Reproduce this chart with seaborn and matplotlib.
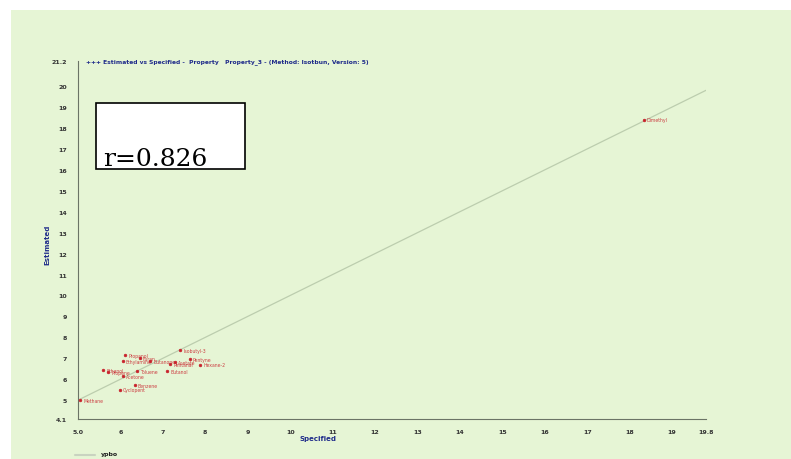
import matplotlib
matplotlib.use("Agg")
import matplotlib.pyplot as plt
import seaborn as sns
import pandas as pd
from matplotlib.patches import Rectangle

# ---- data ----
specified = [7.41, 6.11, 6.06, 6.70, 7.29, 7.17, 7.88, 5.59, 5.71, 6.39, 7.10,
             6.06, 6.34, 5.99, 6.46, 7.64, 5.05, 18.33]
estimated = [7.39, 7.15, 6.87, 6.87, 6.82, 6.72, 6.68, 6.44, 6.34, 6.39, 6.39,
             6.15, 5.72, 5.49, 7.00, 6.96, 5.00, 18.39]
names = ["Isobutyl-3", "Propanol", "Ethylamine", "Butanone", "Acetate", "Pentanal",
         "Hexane-2", "Ethanol", "Propene", "Toluene", "Butanol", "Acetone",
         "Benzene", "Cyclopent", "Furan", "Pentyne", "Methane", "Dimethyl"]
diag = [5.0, 19.8]
xticks = [5.0, 6, 7, 8, 9, 10, 11, 12, 13, 14, 15, 16, 17, 18, 19, 19.8]
xticklabels = ["5.0", "6", "7", "8", "9", "10", "11", "12", "13", "14", "15",
               "16", "17", "18", "19", "19.8"]
yticks = [4.1, 5, 6, 7, 8, 9, 10, 11, 12, 13, 14, 15, 16, 17, 18, 19, 20, 21.2]
yticklabels = ["4.1", "5", "6", "7", "8", "9", "10", "11", "12", "13", "14",
               "15", "16", "17", "18", "19", "20", "21.2"]
title = "+++ Estimated vs Specified -  Property   Property_3 - (Method: Isotbun, Version: 5)"
r_text = "r=0.826"

df = pd.DataFrame({"Specified": specified, "Estimated": estimated, "name": names})
dline = pd.DataFrame({"x": diag, "y": diag})

sns.set_theme(style="white")
plt.rcParams["font.family"] = ["DejaVu Sans"]

W, H = 791, 460
fig = plt.figure(figsize=(W / 100, H / 100), dpi=100)
fig.patch.set_facecolor("white")
fig.patches.append(Rectangle((11 / W, 0), 1 - 11 / W, 1 - 11 / H,
                             transform=fig.transFigure, facecolor="#e6f5d5",
                             edgecolor="none", zorder=-10))

ax = fig.add_axes([78 / W, 1 - 420 / H, (706 - 78) / W, (420 - 62) / H])
ax.set_facecolor("none")
ax.set_zorder(1)

sns.lineplot(data=dline, x="x", y="y", ax=ax, color="#bccdae", linewidth=0.9)
sns.scatterplot(data=df, x="Specified", y="Estimated", ax=ax, s=4,
                color="#c8202a", edgecolor="#c8202a", linewidth=0.4, zorder=3)
for xs, ys, nm in zip(specified, estimated, names):
    ax.text(xs + 0.07, ys, nm, color="#c8202a", fontsize=3.3, va="center",
            ha="left", alpha=0.85)

ax.set_xlim(5.0, 19.8)
ax.set_ylim(4.1, 21.2)
ax.set_xticks(xticks)
ax.set_xticklabels(xticklabels)
ax.set_yticks(yticks)
ax.set_yticklabels(yticklabels)
ax.tick_params(axis="both", labelsize=4.5, colors="#333333", length=2,
               width=0.6, direction="out")
ax.tick_params(axis="x", pad=5)
ax.tick_params(axis="y", pad=6)
for lab in ax.get_xticklabels() + ax.get_yticklabels():
    lab.set_fontweight("bold")
for s in ["top", "right"]:
    ax.spines[s].set_visible(False)
for s in ["left", "bottom"]:
    ax.spines[s].set_color("#6b7466")
    ax.spines[s].set_linewidth(0.8)

ax.set_xlabel("")
ax.set_ylabel("")
fig.text(318 / W, 1 - 439 / H, "Specified", color="#1f2b8a", fontsize=5,
         fontweight="bold", ha="center", va="center")
fig.text(47 / W, 1 - 245 / H, "Estimated", color="#1f2b8a", fontsize=5,
         fontweight="bold", ha="center", va="center", rotation=90)
fig.text(86 / W, 1 - 62 / H, title, color="#1f2b8a", fontsize=4.3,
         fontweight="bold", ha="left", va="center")

# r box
fig.patches.append(Rectangle((96 / W, 1 - 170 / H), (245 - 96) / W, (170 - 104) / H,
                             transform=fig.transFigure, facecolor="white",
                             edgecolor="black", linewidth=1.2, zorder=5))
fig.text(103 / W, 1 - 166 / H, r_text, family="DejaVu Serif", fontsize=18,
         color="black", ha="left", va="baseline", zorder=6)

# bottom legend fragment
fig.lines.append(plt.Line2D([75 / W, 95 / W], [1 - 456 / H, 1 - 456 / H],
                            transform=fig.transFigure, color="#c9d3c0", linewidth=1.5))
fig.text(101 / W, 1 - 455 / H, "ypbo", color="#222222", fontsize=4.5,
         fontweight="bold", ha="left", va="center")

fig.savefig("out.png", dpi=100)
